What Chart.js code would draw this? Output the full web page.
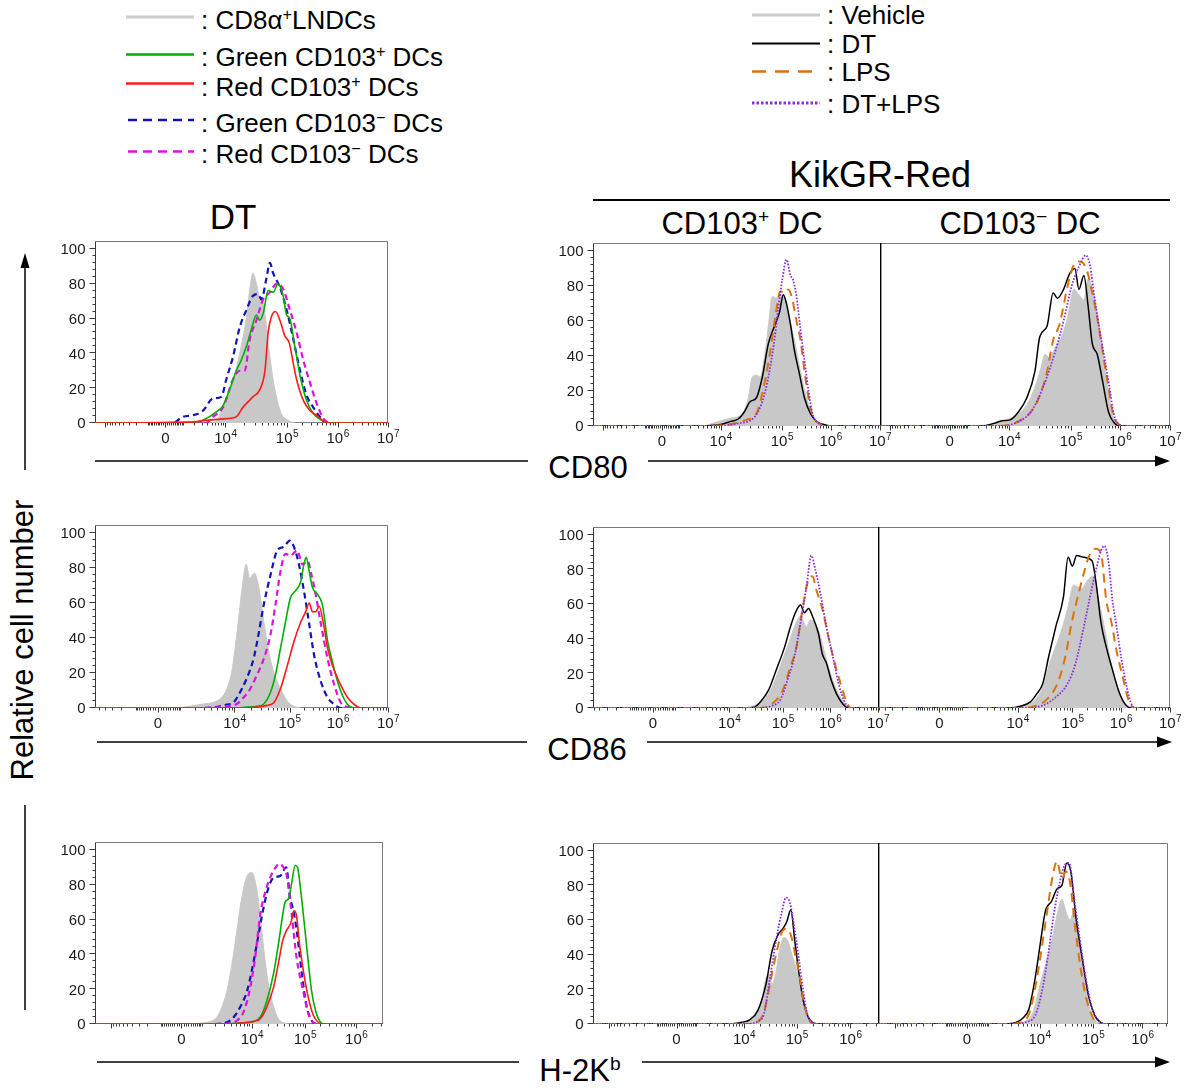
<!DOCTYPE html>
<html>
<head>
<meta charset="utf-8">
<script src="https://cdn.jsdelivr.net/npm/chart.js@4/dist/chart.umd.min.js"></script>
<style>
html,body{margin:0;padding:0;background:#fff;}
#page{position:relative;width:1202px;height:1090px;overflow:hidden;background:#fff;font-family:"Liberation Sans",Arial,Helvetica,sans-serif;color:#000;}
.t{position:absolute;white-space:nowrap;line-height:1;}
.c{transform:translate(-50%,-50%);}
.l{transform:translateY(-50%);}
.t sup{font-size:62%;line-height:0;vertical-align:0.55em;}
canvas{position:absolute;}
#deco{position:absolute;left:0;top:0;}
</style>
</head>
<body>
<div id="page">
<svg id="deco" width="1202" height="1090" xmlns="http://www.w3.org/2000/svg">
  <!-- left legend samples -->
  <line x1="126" y1="17" x2="194" y2="17" stroke="#cccccc" stroke-width="3"/>
  <line x1="126" y1="54.5" x2="194" y2="54.5" stroke="#00aa00" stroke-width="2.5"/>
  <line x1="126" y1="83.5" x2="194" y2="83.5" stroke="#ff1a1a" stroke-width="2.5"/>
  <line x1="128" y1="120" x2="194" y2="120" stroke="#1414b4" stroke-width="2.5" stroke-dasharray="9 6"/>
  <line x1="128" y1="151.5" x2="194" y2="151.5" stroke="#e010e0" stroke-width="2.5" stroke-dasharray="9 6"/>
  <!-- right legend samples -->
  <line x1="752" y1="15" x2="820" y2="15" stroke="#cccccc" stroke-width="3"/>
  <line x1="752" y1="43.5" x2="820" y2="43.5" stroke="#000" stroke-width="2"/>
  <line x1="752" y1="71.5" x2="820" y2="71.5" stroke="#d9730d" stroke-width="2.5" stroke-dasharray="14 9"/>
  <line x1="752" y1="103" x2="820" y2="103" stroke="#8a2be2" stroke-width="3" stroke-dasharray="2.5 2"/>
  <!-- KikGR-Red bar -->
  <line x1="593" y1="200" x2="1170" y2="200" stroke="#000" stroke-width="2"/>
  <!-- vertical axis arrow -->
  <line x1="25" y1="470" x2="25" y2="264" stroke="#000" stroke-width="1.5"/>
  <polygon points="25,253 20.5,268 29.5,268" fill="#000"/>
  <line x1="25" y1="805" x2="25" y2="1010" stroke="#000" stroke-width="1.5"/>
  <!-- CD80 arrow -->
  <line x1="95" y1="461" x2="528" y2="461" stroke="#000" stroke-width="1.5"/>
  <line x1="648" y1="461" x2="1158" y2="461" stroke="#000" stroke-width="1.5"/>
  <polygon points="1170,461 1155,455.5 1155,466.5" fill="#000"/>
  <!-- CD86 arrow -->
  <line x1="97" y1="742" x2="527" y2="742" stroke="#000" stroke-width="1.5"/>
  <line x1="647" y1="742" x2="1160" y2="742" stroke="#000" stroke-width="1.5"/>
  <polygon points="1172,742 1157,736.5 1157,747.5" fill="#000"/>
  <!-- H-2Kb arrow -->
  <line x1="97" y1="1062" x2="519" y2="1062" stroke="#000" stroke-width="1.5"/>
  <line x1="642" y1="1062" x2="1158" y2="1062" stroke="#000" stroke-width="1.5"/>
  <polygon points="1170,1062 1155,1056.5 1155,1067.5" fill="#000"/>
</svg>

<div class="t l" style="left:201px;top:20px;font-size:26px;">: CD8α<sup>+</sup>LNDCs</div>
<div class="t l" style="left:201px;top:57px;font-size:26px;">: Green CD103<sup>+</sup> DCs</div>
<div class="t l" style="left:201px;top:87px;font-size:26px;">: Red CD103<sup>+</sup> DCs</div>
<div class="t l" style="left:201px;top:123px;font-size:26px;">: Green CD103<sup>−</sup> DCs</div>
<div class="t l" style="left:201px;top:154px;font-size:26px;">: Red CD103<sup>−</sup> DCs</div>

<div class="t l" style="left:827px;top:15px;font-size:26px;">: Vehicle</div>
<div class="t l" style="left:827px;top:44px;font-size:26px;">: DT</div>
<div class="t l" style="left:827px;top:72px;font-size:26px;">: LPS</div>
<div class="t l" style="left:827px;top:104px;font-size:26px;">: DT+LPS</div>

<div class="t c" style="left:880px;top:175px;font-size:36px;">KikGR-Red</div>
<div class="t c" style="left:742px;top:223px;font-size:31px;">CD103<sup>+</sup> DC</div>
<div class="t c" style="left:1020px;top:223px;font-size:31px;">CD103<sup>−</sup> DC</div>
<div class="t c" style="left:233px;top:216px;font-size:35px;">DT</div>

<div class="t c" style="left:588px;top:467px;font-size:31px;">CD80</div>
<div class="t c" style="left:587px;top:749px;font-size:31px;">CD86</div>
<div class="t c" style="left:580px;top:1070px;font-size:31px;">H-2K<sup>b</sup></div>
<div class="t" style="left:22px;top:640px;font-size:31px;transform:translate(-50%,-50%) rotate(-90deg);">Relative cell number</div>
</div>

<script>
// ---------------- DATA (x = display channel 0..1000 on the biexponential axis, y = % of max) ----------------
const legendLeft = ['CD8α+LNDCs', 'Green CD103+ DCs', 'Red CD103+ DCs', 'Green CD103− DCs', 'Red CD103− DCs'];
const legendRight = ['Vehicle', 'DT', 'LPS', 'DT+LPS'];
const markers = ['CD80', 'CD86', 'H-2Kb'];
const yTickValues = [0, 20, 40, 60, 80, 100];
const xTickLabels = ['0', '10^4', '10^5', '10^6', '10^7'];

// tick channels for 0, 10^4, 10^5, 10^6, 10^7
const xTicksCD80_DT  = [240, 445, 655, 828, 1000];
const xTicksCD80_Red = [240, 445, 658, 828, 1000];
const xTicksCD86_DT  = [215, 476, 664, 829, 1000];
const xTicksCD86_Red = [210, 478, 666, 832, 1000];
const xTicksH2K_DT   = [300, 545, 729, 907];
const xTicksH2K_P    = [293, 530, 715, 903];
const xTicksH2K_M    = [307, 557, 742, 912];

// CD80 — DT
const cd80_DT_lndc = [[0,0],[379,0],[414,1],[431,7],[448,14],[471,24],[494,40],[517,61],[530,79],[539,86],[551,80],[562,72],[574,69],[585,56],[597,38],[608,25],[622,13],[637,5],[660,1.5],[688,0],[1000,0]];
const cd80_DT_greenPlus = [[0,0],[345,0.5],[379,2.5],[414,6.4],[437,10],[459,19],[482,30],[499,36],[517,44],[534,54],[551,62],[562,59],[574,63],[591,76],[608,75],[625,80],[642,73],[654,62],[665,60],[682,44],[700,27],[722,13],[745,5.4],[774,1.5],[791,0],[1000,0]];
const cd80_DT_redPlus = [[0,0],[322,0.5],[379,1.5],[448,2.5],[482,3.5],[505,9],[539,15],[562,19],[580,30],[591,52],[602,61],[616,64],[631,59],[648,50],[663,46],[677,34],[688,25],[711,13],[734,7],[757,4.4],[780,1],[802,0],[1000,0]];
const cd80_DT_greenMinus = [[0,0],[265,0],[299,3.5],[334,4.4],[368,7],[402,14],[431,15],[448,25],[471,38],[494,55],[517,65],[539,73],[557,74],[568,71],[585,83],[597,92],[608,86],[631,78],[654,65],[677,48],[700,30],[722,16],[745,9],[768,3.5],[791,0],[1000,0]];
const cd80_DT_redMinus = [[0,0],[379,0],[402,3.5],[437,9],[471,25],[494,30],[511,30],[528,48],[551,59],[574,71],[597,75],[620,80],[642,77],[665,65],[688,52],[711,36],[734,23],[757,11],[780,2.5],[802,0],[1000,0]];

// CD80 — KikGR-Red CD103+
const cd80_P_vehicle = [[0,0],[379,0],[435,2.5],[478,4.4],[520,7],[541,16],[555,28],[569,29],[583,28],[597,39],[611,57],[625,74],[639,73],[653,75],[667,74],[681,64],[702,49],[723,31],[744,16],[765,6],[787,1.5],[815,0],[1000,0]];
const cd80_P_dt = [[0,0],[365,0],[449,1],[478,2.5],[506,4],[527,8],[548,14],[569,16],[590,28],[611,47],[632,57],[650,65],[663,75],[674,70],[688,58],[702,43],[719,30],[737,16],[758,7],[780,2.5],[801,1],[829,0],[1000,0]];
const cd80_P_lps = [[0,0],[393,0],[478,1],[534,3.5],[569,7],[597,24],[618,43],[635,62],[653,77],[667,76],[681,78],[695,72],[709,60],[723,49],[737,31],[751,16],[765,6],[787,1.5],[815,0],[1000,0]];
const cd80_P_dtlps = [[0,0],[421,0],[506,1.5],[562,5],[590,14],[611,28],[632,49],[646,68],[660,84],[674,95],[688,86],[698,83],[709,74],[723,55],[737,37],[751,20],[765,7],[787,1.5],[815,0],[1000,0]];

// CD80 — KikGR-Red CD103−
const cd80_M_vehicle = [[0,0],[308,0],[379,1],[435,3.5],[477,7],[506,12],[534,22],[555,33],[569,41],[583,39],[605,45],[626,51],[647,62],[668,78],[686,75],[703,72],[718,84],[739,74],[760,53],[781,26],[802,6],[823,1],[845,0],[1000,0]];
const cd80_M_dt = [[0,0],[350,0],[393,1.5],[421,3],[449,3.5],[477,8],[506,16],[534,31],[551,51],[576,57],[597,76],[612,73],[633,78],[654,87],[672,90],[686,78],[703,86],[718,68],[732,47],[749,41],[767,26],[788,8],[809,1.5],[830,0],[1000,0]];
const cd80_M_lps = [[0,0],[407,0],[463,1.5],[520,8],[548,16],[576,31],[597,49],[619,58],[647,80],[668,92],[686,94],[701,93],[715,88],[732,76],[753,58],[771,39],[788,22],[802,8],[823,1],[845,0],[1000,0]];
const cd80_M_dtlps = [[0,0],[421,0],[477,2.5],[520,8],[562,22],[605,43],[633,60],[661,80],[686,91],[710,97.5],[725,91],[739,74],[757,55],[774,39],[791,22],[806,7],[823,1],[845,0],[1000,0]];

// CD86 — DT
const cd86_DT_lndc = [[0,0],[266,0],[323,1],[369,2.3],[404,3.3],[432,6],[450,11],[467,21],[484,42],[501,67],[516,82],[528,74],[544,77],[559,69],[573,53],[587,38],[604,24],[622,15],[639,9],[656,4],[679,1],[713,0],[1000,0]];
const cd86_DT_greenPlus = [[0,0],[472,0],[518,0.5],[553,1],[576,2.3],[599,9],[616,19],[633,34],[650,49],[667,63],[685,67],[702,72],[713,82],[721,86],[731,78],[742,69],[759,65],[776,59],[794,38],[811,26],[828,15],[845,7],[862,2],[885,0],[1000,0]];
const cd86_DT_redPlus = [[0,0],[495,0],[553,0.5],[587,1.5],[610,3],[633,11],[656,24],[679,38],[702,49],[719,55],[731,60],[742,55],[753,55],[765,58],[780,48],[794,34],[811,24],[828,17],[845,11],[862,6],[885,2],[908,0],[1000,0]];
const cd86_DT_greenMinus = [[0,0],[358,0],[427,1],[450,2],[472,3],[495,9],[518,17],[541,28],[558,42],[576,59],[599,76],[622,90],[644,92],[665,95.6],[679,92],[696,82],[713,67],[731,48],[748,30],[771,15],[794,6],[817,2],[839,0],[1000,0]];
const cd86_DT_redMinus = [[0,0],[381,0],[450,1],[484,2.3],[507,6],[530,11],[553,19],[576,28],[599,42],[616,59],[633,78],[650,88],[667,87],[690,90],[708,82],[725,84],[739,76],[753,65],[771,48],[794,28],[817,13],[839,3],[862,0.5],[885,0],[1000,0]];

// CD86 — KikGR-Red CD103+
const cd86_P_vehicle = [[0,0],[510,0],[566,1.5],[601,5],[622,10],[643,18],[665,28],[686,37],[707,47],[728,53],[749,47],[763,51],[777,49],[791,45],[805,37],[819,28],[841,16],[862,8],[883,2.5],[904,0],[1000,0]];
const cd86_P_dt = [[0,0],[538,0],[566,0.5],[587,3.5],[615,10],[643,22],[672,35],[693,47],[710,55],[728,59.5],[742,55],[756,57.5],[770,53],[791,43],[805,31],[819,26],[836,16],[855,8],[876,2.5],[897,0],[1000,0]];
const cd86_P_lps = [[0,0],[566,0],[608,0.5],[636,3.5],[665,10],[693,24],[714,35],[735,57],[756,74],[770,76],[784,68],[805,57],[826,41],[848,26],[869,14],[890,3.5],[904,0],[1000,0]];
const cd86_P_dtlps = [[0,0],[580,0],[622,1],[658,5],[686,18],[707,30],[728,49],[749,70],[766,88],[780,80],[798,66],[819,47],[841,30],[862,14],[883,3.5],[904,0],[1000,0]];

// CD86 — KikGR-Red CD103−
const cd86_M_vehicle = [[0,0],[452,0],[494,1],[536,4.4],[564,12],[592,28],[621,41],[649,57],[670,71],[684,70],[698,69],[719,74],[740,76],[754,64],[775,47],[796,28],[817,14],[838,5],[859,1],[880,0],[1000,0]];
const cd86_M_dt = [[0,0],[452,0],[487,1],[522,3.5],[543,8],[564,14],[585,30],[609,47],[635,64],[651,87],[666,82],[680,88],[705,87],[733,85],[747,72],[764,49],[782,35],[803,22],[824,10],[845,2.5],[866,0],[1000,0]];
const cd86_M_lps = [[0,0],[494,0],[536,1],[578,5],[614,14],[642,30],[663,49],[684,64],[705,78],[726,89],[747,92],[764,89],[782,62],[800,49],[817,33],[838,18],[859,4],[880,0],[1000,0]];
const cd86_M_dtlps = [[0,0],[508,0],[564,1.5],[607,6],[649,14],[677,26],[705,47],[726,64],[747,80],[764,91],[775,93.6],[789,85],[803,62],[817,47],[834,28],[852,12],[866,3],[880,0],[1000,0]];

// H-2Kb — DT
const h2k_DT_lndc = [[0,0],[332,0],[366,0.5],[401,1.5],[424,4],[441,10],[458,19],[476,35],[493,54],[510,73],[528,85],[545,87],[560,79],[574,62],[588,40],[602,23],[620,10],[637,3],[660,0.5],[689,0],[1000,0]];
const h2k_DT_greenPlus = [[0,0],[458,0],[505,0.5],[551,1.5],[574,4],[597,13.5],[620,29],[637,46],[652,63],[660,70],[672,72],[683,81],[695,91],[703,90],[714,77],[729,54],[741,35],[752,19],[767,7],[781,1.5],[798,0],[1000,0]];
const h2k_DT_redPlus = [[0,0],[458,0],[505,0.5],[551,1.5],[574,3],[597,10],[620,21],[637,35],[652,48],[666,54],[680,58],[691,65],[700,62],[710,46],[723,31],[741,15],[758,5],[775,1],[793,0],[1000,0]];
const h2k_DT_greenMinus = [[0,0],[412,0],[458,1],[482,4],[505,10],[528,19],[545,31],[562,46],[583,65],[602,78],[620,84],[643,85],[664,90],[677,73],[689,65],[700,54],[718,29],[735,10],[752,2],[770,0],[1000,0]];
const h2k_DT_redMinus = [[0,0],[435,0],[470,0.5],[493,2],[516,7],[539,21],[556,38],[574,63],[597,79],[620,88],[641,92],[654,90],[666,85],[683,63],[700,38],[723,19],[741,6],[758,1],[770,0],[1000,0]];

// H-2Kb — KikGR-Red CD103+
const h2k_P_vehicle = [[0,0],[494,0],[537,1],[565,3.5],[593,15],[607,26.5],[618,28.5],[628,23],[642,30],[656,44],[670,50],[684,48],[698,40],[716,30],[733,15],[747,6],[768,0.5],[789,0],[1000,0]];
const h2k_P_dt = [[0,0],[480,0],[522,1],[551,2.5],[579,8],[607,23],[628,42],[649,51.5],[666,55],[680,59],[694,66],[708,48],[722,30],[736,15],[754,4.4],[775,0.5],[796,0],[1000,0]];
const h2k_P_lps = [[0,0],[537,0],[579,1.5],[600,7],[621,23],[642,40],[663,53],[677,55],[694,51.5],[712,38],[726,26.5],[740,13],[754,4],[768,0.5],[789,0],[1000,0]];
const h2k_P_dtlps = [[0,0],[537,0],[579,1.5],[600,6],[621,26.5],[642,48],[663,65],[677,73],[691,70],[705,57],[722,38],[736,21],[750,7],[768,1],[789,0],[1000,0]];

// H-2Kb — KikGR-Red CD103−
const h2k_M_vehicle = [[0,0],[465,0],[507,1.5],[535,7],[556,21],[577,34],[599,48],[620,65],[634,72],[648,65],[662,60],[676,65],[693,48],[711,26.5],[730,9],[747,2.5],[768,0],[1000,0]];
const h2k_M_dt = [[0,0],[423,0],[465,0.5],[500,3.5],[521,9],[542,26.5],[561,48],[577,65],[599,71],[617,78],[634,80],[651,93],[665,88],[683,61],[704,38],[725,17],[747,5],[768,1],[789,0],[1000,0]];
const h2k_M_lps = [[0,0],[451,0],[493,1],[521,6],[542,21],[563,42],[585,67],[603,86],[617,94],[634,84],[648,88],[662,82],[679,57],[697,34],[718,15],[735,6],[754,0.5],[775,0],[1000,0]];
const h2k_M_dtlps = [[0,0],[465,0],[507,1],[542,5],[563,17],[585,38],[606,63],[627,82],[645,92],[659,93],[676,73],[697,48],[718,25],[739,9],[761,2],[782,0],[1000,0]];

// ---------------- STYLES / LAYOUT ----------------
const FONT = '"Liberation Sans", Arial, Helvetica, sans-serif';
const X_MAX = 1000, Y_MAX = 104.5;
const styleA = [ // drawn top-first
  {color:'#ff1a1a', width:1.6, dash:[]},          // Red CD103+
  {color:'#00b000', width:1.6, dash:[]},          // Green CD103+
  {color:'#e010e0', width:2.2, dash:[6,4]},       // Red CD103−
  {color:'#1414b4', width:2.2, dash:[6,4]},       // Green CD103−
  {color:'#c8c8c8', width:1, dash:[], fill:true}  // CD8α+ LNDCs
];
const styleK = [
  {color:'#8a2be2', width:1.8, dash:[1.6,1.6]},   // DT+LPS
  {color:'#d9730d', width:2, dash:[9,6]},         // LPS
  {color:'#000000', width:1.5, dash:[]},          // DT
  {color:'#c8c8c8', width:1, dash:[], fill:true}  // Vehicle
];

const panels = [
  {box:{l:95,r:388,t:241,b:423},  kind:'A', side:'L', ticks:xTicksCD80_DT,  series:[cd80_DT_redPlus, cd80_DT_greenPlus, cd80_DT_redMinus, cd80_DT_greenMinus, cd80_DT_lndc]},
  {box:{l:593,r:880,t:243,b:426}, kind:'K', side:'B', ticks:xTicksCD80_Red, series:[cd80_P_dtlps, cd80_P_lps, cd80_P_dt, cd80_P_vehicle]},
  {box:{l:880,r:1170,t:243,b:426},kind:'K', side:'C', ticks:xTicksCD80_Red, series:[cd80_M_dtlps, cd80_M_lps, cd80_M_dt, cd80_M_vehicle]},
  {box:{l:95,r:388,t:525,b:708},  kind:'A', side:'L', ticks:xTicksCD86_DT,  series:[cd86_DT_redPlus, cd86_DT_greenPlus, cd86_DT_redMinus, cd86_DT_greenMinus, cd86_DT_lndc]},
  {box:{l:593,r:878,t:527,b:708}, kind:'K', side:'B', ticks:xTicksCD86_Red, series:[cd86_P_dtlps, cd86_P_lps, cd86_P_dt, cd86_P_vehicle]},
  {box:{l:878,r:1170,t:527,b:708},kind:'K', side:'C', ticks:xTicksCD86_Red, series:[cd86_M_dtlps, cd86_M_lps, cd86_M_dt, cd86_M_vehicle]},
  {box:{l:95,r:383,t:842,b:1024}, kind:'A', side:'L', ticks:xTicksH2K_DT,   series:[h2k_DT_redPlus, h2k_DT_greenPlus, h2k_DT_redMinus, h2k_DT_greenMinus, h2k_DT_lndc]},
  {box:{l:593,r:878,t:843,b:1024},kind:'K', side:'B', ticks:xTicksH2K_P,    series:[h2k_P_dtlps, h2k_P_lps, h2k_P_dt, h2k_P_vehicle]},
  {box:{l:878,r:1168,t:843,b:1024},kind:'K',side:'C', ticks:xTicksH2K_M,    series:[h2k_M_dtlps, h2k_M_lps, h2k_M_dt, h2k_M_vehicle]}
];

function minorTickChannels(t) {
  const out = [];
  const p0 = t[0], d = t[1] - t[0];
  const f = k => Math.asinh(k) / Math.asinh(10);
  for (let k = 1; k <= 9; k++) { out.push(p0 + d * f(k)); out.push(p0 - d * f(k)); }
  for (let k = 1; k <= 9; k++) { out.push(p0 + d * f(k / 10)); out.push(p0 - d * f(k / 10)); }
  for (let i = 1; i < t.length - 1; i++) {
    for (let m = 2; m <= 9; m++) out.push(t[i] + (t[i + 1] - t[i]) * Math.log10(m));
  }
  const last = t.length - 1, sp = t[last] - t[last - 1];
  for (let m = 2; m <= 9; m++) out.push(t[last] + sp * Math.log10(m));
  const sp2 = t[2] - t[1];
  for (let m = 2; m <= 9; m++) out.push(p0 - d - sp2 * Math.log10(m));
  return out;
}

function decoPlugin(p) {
  return {
    id: 'deco',
    beforeDatasetsDraw(chart) {
      const {ctx, chartArea: a, scales: {x, y}} = chart;
      ctx.save();
      const L = Math.round(a.left) + 0.5, R = Math.round(a.right) - 0.5;
      const T = Math.round(a.top) + 0.5, B = Math.round(a.bottom) - 0.5;
      // box
      ctx.lineWidth = 1;
      ctx.strokeStyle = '#7a7a7a';
      ctx.beginPath(); ctx.moveTo(L, T); ctx.lineTo(R + (p.side === 'B' ? 1 : 0), T); ctx.stroke();
      if (p.side !== 'B') { ctx.beginPath(); ctx.moveTo(R, T); ctx.lineTo(R, B); ctx.stroke(); }
      ctx.strokeStyle = '#3a3a3a';
      ctx.beginPath(); ctx.moveTo(L, B); ctx.lineTo(R + (p.side === 'B' ? 1 : 0), B); ctx.stroke();
      if (p.side === 'C') {
        // shared divider between the two KikGR-Red panels
        ctx.strokeStyle = '#000'; ctx.lineWidth = 1.4;
        ctx.beginPath(); ctx.moveTo(a.left + 0.7, a.top); ctx.lineTo(a.left + 0.7, a.bottom); ctx.stroke();
        ctx.lineWidth = 1;
      } else {
        ctx.strokeStyle = '#3a3a3a';
        ctx.beginPath(); ctx.moveTo(L, T); ctx.lineTo(L, B); ctx.stroke();
        // y ticks
        for (let v = 0; v <= 100; v += 4) {
          const py = Math.round(y.getPixelForValue(v)) - 0.5;
          const len = (v % 20 === 0) ? 6 : 3;
          ctx.beginPath(); ctx.moveTo(L - len, py); ctx.lineTo(L, py); ctx.stroke();
        }
        ctx.fillStyle = '#1a1a1a';
        ctx.font = '15px ' + FONT;
        ctx.textAlign = 'right';
        ctx.textBaseline = 'alphabetic';
        yTickValues.forEach(v => {
          ctx.fillText(String(v), L - 10, y.getPixelForValue(v) + 5.4);
        });
      }
      // x ticks
      ctx.strokeStyle = '#3a3a3a';
      const t = p.ticks;
      const majors = t.concat([t[0] - (t[1] - t[0])]);
      majors.forEach(c => {
        if (c < 0 || c > X_MAX + 0.1) return;
        const px = Math.round(x.getPixelForValue(c)) + 0.5;
        ctx.beginPath(); ctx.moveTo(px, B); ctx.lineTo(px, B + 5); ctx.stroke();
      });
      minorTickChannels(t).forEach(c => {
        if (c < 2 || c > X_MAX - 2) return;
        const px = Math.round(x.getPixelForValue(c)) + 0.5;
        ctx.beginPath(); ctx.moveTo(px, B); ctx.lineTo(px, B + 3); ctx.stroke();
      });
      // x labels
      ctx.fillStyle = '#1a1a1a';
      ctx.textBaseline = 'alphabetic';
      ctx.textAlign = 'left';
      t.forEach((c, i) => {
        const lab = xTickLabels[i];
        const px = x.getPixelForValue(c);
        const base = a.bottom + 20;
        if (lab.indexOf('^') < 0) {
          ctx.font = '15px ' + FONT;
          const w = ctx.measureText(lab).width;
          ctx.fillText(lab, px - w / 2, base);
        } else {
          const [b, e] = lab.split('^');
          ctx.font = '15px ' + FONT;
          const w1 = ctx.measureText(b).width;
          ctx.font = '10px ' + FONT;
          const w2 = ctx.measureText(e).width;
          const s = px - (w1 + w2) / 2;
          ctx.font = '15px ' + FONT;
          ctx.fillText(b, s, base);
          ctx.font = '10px ' + FONT;
          ctx.fillText(e, s + w1 + 0.5, base - 6);
        }
      });
      ctx.restore();
    }
  };
}

const page = document.getElementById('page');
panels.forEach((p, idx) => {
  const ML = p.side === 'C' ? 2 : 52, MR = 18, MT = 4, MB = 28;
  const w = (p.box.r - p.box.l) + ML + MR;
  const h = (p.box.b - p.box.t) + MT + MB;
  const cv = document.createElement('canvas');
  cv.width = w; cv.height = h;
  cv.style.left = (p.box.l - ML) + 'px';
  cv.style.top = (p.box.t - MT) + 'px';
  cv.style.width = w + 'px'; cv.style.height = h + 'px';
  page.appendChild(cv);
  const styles = p.kind === 'A' ? styleA : styleK;
  const datasets = p.series.map((s, i) => {
    const st = styles[i];
    return {
      data: s,
      borderColor: st.color,
      backgroundColor: st.color,
      borderWidth: st.width,
      borderDash: st.dash,
      fill: st.fill ? 'origin' : false,
      cubicInterpolationMode: 'monotone',
      pointRadius: 0,
      order: i
    };
  });
  new Chart(cv, {
    type: 'line',
    data: {datasets},
    options: {
      responsive: false,
      animation: false,
      devicePixelRatio: 1,
      layout: {padding: {left: ML, right: MR, top: MT, bottom: MB}},
      plugins: {legend: {display: false}, tooltip: {enabled: false}},
      scales: {
        x: {type: 'linear', min: 0, max: X_MAX, display: false},
        y: {type: 'linear', min: 0, max: Y_MAX, display: false}
      }
    },
    plugins: [decoPlugin(p)]
  });
});
</script>
</body>
</html>
